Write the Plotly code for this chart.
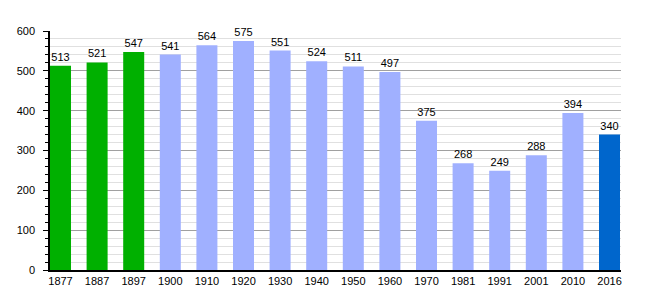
import plotly.graph_objects as go

years = ["1877", "1887", "1897", "1900", "1910", "1920", "1930", "1940",
         "1950", "1960", "1970", "1981", "1991", "2001", "2010", "2016"]
population = [513, 521, 547, 541, 564, 575, 551, 524, 511, 497, 375, 268, 249, 288, 394, 340]
bar_colors = ["#00b000"] * 3 + ["#a0b0ff"] * 12 + ["#0066cc"]

fig = go.Figure(go.Bar(
    x=list(range(len(years))), y=population,
    marker=dict(color=bar_colors, line=dict(width=0)),
    width=0.574,
    text=[str(v) for v in population], textposition="outside",
    textfont=dict(family="Liberation Sans, Arial", size=11, color="black"),
    cliponaxis=False,
))

fig.update_layout(
    width=650, height=300,
    margin=dict(l=50, r=29, t=31, b=30),
    paper_bgcolor="white", plot_bgcolor="white",
    showlegend=False,
    font=dict(family="Liberation Sans, Arial", size=11, color="black"),
    xaxis=dict(
        tickmode="array", tickvals=list(range(len(years))), ticktext=years,
        range=[-0.287, 15.314], showgrid=False,
        showline=True, linecolor="black", linewidth=1.5,
        ticks="", tickfont=dict(size=11),
    ),
    yaxis=dict(
        range=[0, 600], dtick=100, showgrid=True, gridcolor="#a0a0a0", gridwidth=1,
        showline=True, linecolor="black", linewidth=1.5,
        ticks="outside", ticklen=5, tickcolor="black",
        ticklabelstandoff=6,
        zeroline=False, tickfont=dict(size=11),
        minor=dict(dtick=20, showgrid=True, gridcolor="#e0e0e0",
                   ticks="outside", ticklen=3, tickcolor="black"),
    ),
)

fig.write_html("out.html")
